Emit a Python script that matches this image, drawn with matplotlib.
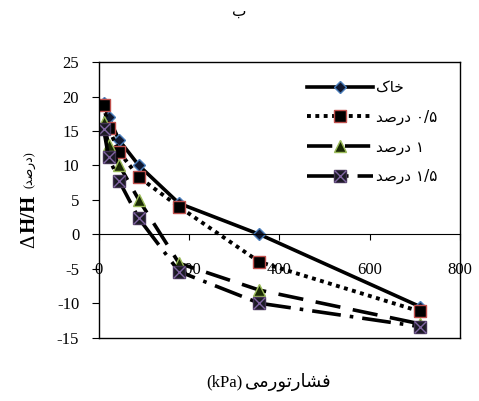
import numpy as np
import matplotlib.pyplot as plt
from matplotlib.lines import Line2D

# pressure (kPa) and swell (%)
pressure = [11, 22, 45, 89, 178, 356, 712]
soil = [19.0, 17.0, 13.7, 10.0, 4.5, 0.0, -10.5]
lime05 = [18.8, 15.4, 12.0, 8.3, 4.0, -4.0, -11.2]
lime10 = [16.3, 13.0, 10.1, 5.0, -4.2, -8.1, -13.0]
lime15 = [15.3, 11.2, 7.8, 2.3, -5.4, -10.0, -13.4]

# Persian labels, written in visual order with presentation forms
dars = '\uFEAA\uFEBB\uFEAD\uFEA9'
names = ['\uFB8E\uFE8E\uFEA7',
         dars + ' \u06F0/\u06F5',
         dars + ' \u06F1',
         dars + ' \u06F1/\u06F5']
title = '\u0628'
xlab_fa = '\uFBFD\uFEE3\uFEAD\uFEEE\uFE97\uFEAD\uFE8E\uFEB8\uFED3'

plt.rcParams['font.family'] = ['Liberation Serif', 'DejaVu Sans']
plt.rcParams['axes.unicode_minus'] = False

fig = plt.figure(figsize=(4.79, 4.01), dpi=100)
ax = fig.add_axes([0.206, 0.158, 0.754, 0.687])

dot = (0, (1, 1.15))
dash = (0, (7, 3.5))
dashdot = (0, (8, 2.5, 1, 2.5))

ax.plot(pressure, soil, color='k', lw=2.6, marker='D', ms=6,
        mfc='#101830', mec='#4a7ebb', mew=1)
ax.plot(pressure, lime05, color='k', lw=2.8, ls=dot, marker='s', ms=9,
        mfc='k', mec='#c0504d', mew=1)
ax.plot(pressure, lime10, color='k', lw=2.6, ls=dash, marker='^', ms=8,
        mfc='#1a2a05', mec='#9bbb59', mew=1)
ax.plot(pressure, lime15, color='k', lw=2.6, ls=dashdot, marker='s', ms=9,
        mfc='#1a1a22', mec='#403050', mew=1)
ax.plot(pressure, lime15, ls='none', marker='x', ms=8, mec='#8064a2', mew=1)

ax.set_xlim(0, 800)
ax.set_ylim(-15, 25)
ax.set_xticks([0, 200, 400, 600, 800])
ax.set_yticks(np.arange(-15, 26, 5))

ax.spines['bottom'].set_position(('data', 0))
ax.spines['bottom'].set_linewidth(0.8)
for s in ['left', 'top', 'right']:
    ax.spines[s].set_linewidth(1.0)
ax.plot([0, 1], [0, 0], transform=ax.transAxes, color='k', lw=1.0, clip_on=False)
ax.tick_params(axis='x', direction='out', length=4, pad=16, labelsize=12)
ax.tick_params(axis='y', direction='out', length=5, pad=9, labelsize=12)

h_soil = Line2D([], [], color='k', lw=2.6, marker='D', ms=6, mfc='#101830', mec='#4a7ebb')
h05 = Line2D([], [], color='k', lw=2.8, ls=dot, marker='s', ms=9, mfc='k', mec='#c0504d')
h10 = Line2D([], [], color='k', lw=2.6, ls=dash, marker='^', ms=8, mfc='#1a2a05', mec='#9bbb59')
h15a = Line2D([], [], color='k', lw=2.6, ls=dashdot, marker='s', ms=9,
              mfc='#1a1a22', mec='#403050')
h15b = Line2D([], [], ls='none', marker='x', ms=8, mec='#8064a2', mew=1)
ax.legend([h_soil, h05, h10, (h15a, h15b)], names, loc='upper left',
          bbox_to_anchor=(0.54, 0.985), frameon=False, handlelength=4.3,
          handletextpad=0.2, labelspacing=0.95, prop={'family': 'DejaVu Sans', 'size': 11})

fig.text(0.5, 0.972, title, ha='center', va='center', fontsize=11, family='DejaVu Sans')
fig.text(0.507, 0.047, '(kPa)', ha='right', va='center', fontsize=12)
fig.text(0.511, 0.047, xlab_fa, ha='left', va='center', fontsize=13, family='DejaVu Sans')
fig.text(0.062, 0.382, '\u0394', rotation=90, ha='center', va='bottom', fontsize=15)
fig.text(0.062, 0.418, 'H/H', rotation=90, ha='center', va='bottom',
         fontsize=15, fontweight='bold')
fig.text(0.064, 0.532, '(' + dars + ')', rotation=90, ha='center', va='bottom',
         fontsize=9, family=['Liberation Serif', 'DejaVu Sans'])

fig.savefig('out.png', dpi=100)
